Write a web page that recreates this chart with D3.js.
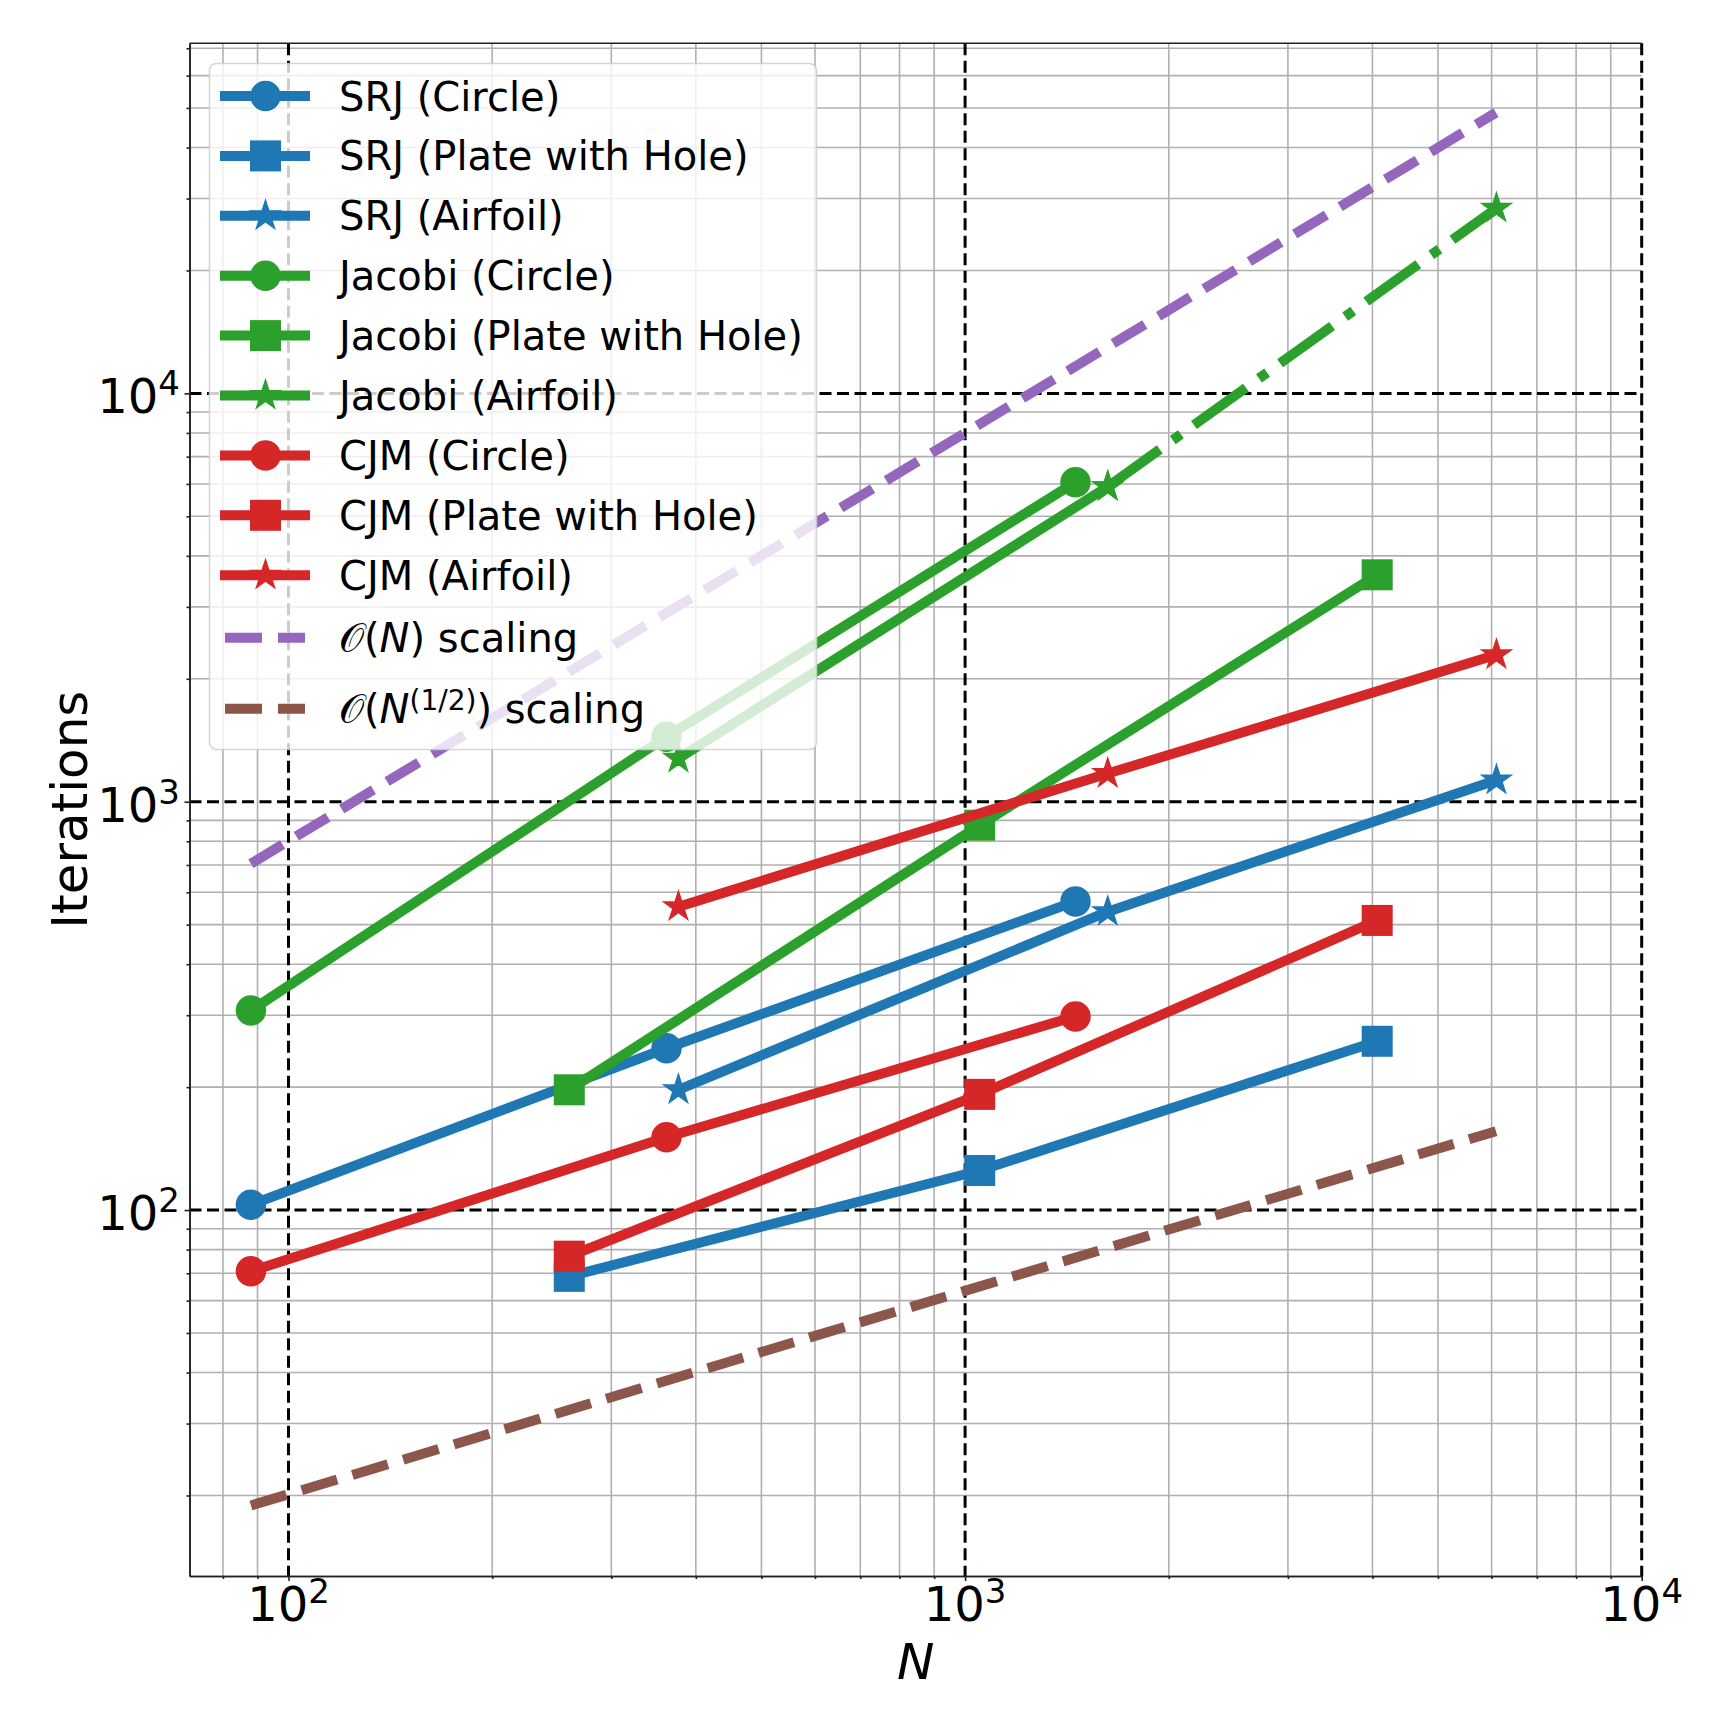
<!DOCTYPE html>
<html>
<head>
<meta charset="utf-8">
<script src="https://cdn.jsdelivr.net/npm/d3@7"></script>
<style>
  body { margin: 0; background: #fff; }
  svg text { font-family: "DejaVu Sans", sans-serif; fill: #000; }
</style>
</head>
<body>
<svg id="chart" width="1728" height="1728"></svg>
<script>

// Mesh sizes N for each geometry
var circleN = [88, 362, 1456];
var plateN = [260, 1051, 4065];
var airfoilN = [377, 1625, 6100];

// Iterations per solver and geometry
var srjCircle = [103, 249, 570];
var srjPlate = [68.8, 125, 259];
var srjAirfoil = [197, 538, 1130];
var jacobiCircle = [308, 1443, 6060];
var jacobiPlate = [197, 876, 3595];
var jacobiAirfoil = [1277, 5908];
var jacobiAirfoilExtra = [5908, 28400];
var cjmCircle = [70.8, 150.7, 298];
var cjmPlate = [77.1, 192, 512];
var cjmAirfoil = [553, 1172, 2290];

// Reference scaling lines (end points)
var scalingN = [88, 6090];
var linearScaling = [705, 48700];
var sqrtScaling = [18.9, 156];

// Axis decades for labels
var xTickExp = [2, 3, 4];
var yTickExp = [2, 3, 4];

var blue = "#1f77b4", green = "#2ca02c", red = "#d62728",
    purple = "#9467bd", brown = "#8c564b";

function pts(n, v) {
    return v.map(function(d, i) { return [n[i], d]; });
}

var series = [
    {label: "SRJ (Circle)", color: blue, marker: "o", data: pts(circleN, srjCircle)},
    {label: "SRJ (Plate with Hole)", color: blue, marker: "s", data: pts(plateN, srjPlate)},
    {label: "SRJ (Airfoil)", color: blue, marker: "*", data: pts(airfoilN, srjAirfoil)},
    {label: "Jacobi (Circle)", color: green, marker: "o", data: pts(circleN, jacobiCircle)},
    {label: "Jacobi (Plate with Hole)", color: green, marker: "s", data: pts(plateN, jacobiPlate)},
    {label: "Jacobi (Airfoil)", color: green, marker: "*", data: pts(airfoilN, jacobiAirfoil)},
    {label: null, color: green, marker: "*", dash: "64,16,10,16", data: pts(airfoilN.slice(1), jacobiAirfoilExtra)},
    {label: "CJM (Circle)", color: red, marker: "o", data: pts(circleN, cjmCircle)},
    {label: "CJM (Plate with Hole)", color: red, marker: "s", data: pts(plateN, cjmPlate)},
    {label: "CJM (Airfoil)", color: red, marker: "*", data: pts(airfoilN, cjmAirfoil)},
    {label: "O(N)", color: purple, marker: null, dash: "37,16", data: pts(scalingN, linearScaling)},
    {label: "O(N^1/2)", color: brown, marker: null, dash: "37,16", data: pts(scalingN, sqrtScaling)}
];

// Plot area
var plotLeft = 189.5, plotRight = 1641.7, plotTop = 43.3, plotBottom = 1576;
var lw = 10;

var x = d3.scaleLog().domain([71.4, 10000]).range([plotLeft, plotRight]);
var y = d3.scaleLog().domain([12.7, 72000]).range([plotBottom, plotTop]);

var svg = d3.select("#chart");

var isMajor = function(v) { return Math.abs(Math.log10(v) - Math.round(Math.log10(v))) < 1e-9; };
var xMinor = x.ticks().filter(function(v) { return !isMajor(v); });
var yMinor = y.ticks().filter(function(v) { return !isMajor(v); });
var xMajor = xTickExp.map(function(e) { return Math.pow(10, e); });
var yMajor = yTickExp.map(function(e) { return Math.pow(10, e); });

// Minor grid
var grid = svg.append("g");
grid.selectAll(".xminor").data(xMinor).enter().append("line")
    .attr("x1", function(d) { return x(d); }).attr("x2", function(d) { return x(d); })
    .attr("y1", plotTop).attr("y2", plotBottom)
    .style("stroke", "#b0b0b0").style("stroke-width", 1.6);
grid.selectAll(".yminor").data(yMinor).enter().append("line")
    .attr("y1", function(d) { return y(d); }).attr("y2", function(d) { return y(d); })
    .attr("x1", plotLeft).attr("x2", plotRight)
    .style("stroke", "#b0b0b0").style("stroke-width", 1.6);

// Major grid, black dashed
grid.selectAll(".xmajor").data(xMajor).enter().append("line")
    .attr("x1", function(d) { return x(d); }).attr("x2", function(d) { return x(d); })
    .attr("y1", plotTop).attr("y2", plotBottom)
    .style("stroke", "#000").style("stroke-width", 3).style("stroke-dasharray", "12,5.5");
grid.selectAll(".ymajor").data(yMajor).enter().append("line")
    .attr("y1", function(d) { return y(d); }).attr("y2", function(d) { return y(d); })
    .attr("x1", plotLeft).attr("x2", plotRight)
    .style("stroke", "#000").style("stroke-width", 3).style("stroke-dasharray", "12,5.5");

// Marker drawing
function drawMarker(g, type, color, cx, cy) {
    if (type === "o") {
        g.append("circle").attr("cx", cx).attr("cy", cy).attr("r", 14.5)
            .style("fill", color).style("stroke", color).style("stroke-width", 1.5);
    } else if (type === "s") {
        g.append("rect").attr("x", cx - 14.5).attr("y", cy - 14.5)
            .attr("width", 29).attr("height", 29)
            .style("fill", color).style("stroke", color).style("stroke-width", 2);
    } else if (type === "*") {
        var r = 14.5;
        g.append("path")
            .attr("d", d3.symbol().type(d3.symbolStar).size(r * r / 0.8908130915292852)())
            .attr("transform", "translate(" + cx + "," + cy + ")")
            .style("fill", color).style("stroke", color).style("stroke-width", 2)
            .style("stroke-linejoin", "miter");
    }
}

var line = d3.line()
    .x(function(d) { return x(d[0]); })
    .y(function(d) { return y(d[1]); });

var plot = svg.append("g");
series.forEach(function(s) {
    var g = plot.append("g");
    g.append("path")
        .datum(s.data)
        .attr("d", line)
        .style("fill", "none")
        .style("stroke", s.color)
        .style("stroke-width", lw)
        .style("stroke-linejoin", "round")
        .style("stroke-linecap", s.dash ? "butt" : "square")
        .style("stroke-dasharray", s.dash || null);
    if (s.marker) {
        s.data.forEach(function(d) { drawMarker(g, s.marker, s.color, x(d[0]), y(d[1])); });
    }
});

// Axes: ticks and spines
var xAxisMinor = d3.axisBottom(x).tickValues(xMinor).tickSize(3).tickSizeOuter(0).tickFormat("");
var xAxisMajor = d3.axisBottom(x).tickValues(xMajor).tickSize(5).tickSizeOuter(0).tickFormat("");
var yAxisMinor = d3.axisLeft(y).tickValues(yMinor).tickSize(3).tickSizeOuter(0).tickFormat("");
var yAxisMajor = d3.axisLeft(y).tickValues(yMajor).tickSize(5).tickSizeOuter(0).tickFormat("");

[[xAxisMinor, "b"], [xAxisMajor, "b"], [yAxisMinor, "l"], [yAxisMajor, "l"]].forEach(function(a) {
    var g = svg.append("g")
        .attr("transform", a[1] === "b" ? "translate(0," + plotBottom + ")" : "translate(" + plotLeft + ",0)")
        .call(a[0]);
    g.selectAll("path,line").style("stroke", "#222").style("stroke-width", 1.6);
});

// top spine
svg.append("line").attr("x1", plotLeft).attr("x2", plotRight).attr("y1", plotTop).attr("y2", plotTop)
    .style("stroke", "#222").style("stroke-width", 1.6);

// Tick labels 10^k
xTickExp.forEach(function(e) {
    var t = svg.append("text")
        .attr("x", x(Math.pow(10, e)))
        .attr("y", 1620.7)
        .attr("text-anchor", "middle")
        .style("font-size", "48px");
    t.append("tspan").text("10");
    t.append("tspan").attr("dy", -17.5).style("font-size", "34px").text(e);
});
yTickExp.forEach(function(e) {
    var t = svg.append("text")
        .attr("x", 180)
        .attr("y", y(Math.pow(10, e)) + 20)
        .attr("text-anchor", "end")
        .style("font-size", "48px");
    t.append("tspan").text("10");
    t.append("tspan").attr("dy", -18).style("font-size", "34px").text(e);
});

// Axis labels
svg.append("text")
    .attr("x", (plotLeft + plotRight) / 2)
    .attr("y", 1679)
    .attr("text-anchor", "middle")
    .style("font-size", "50px")
    .style("font-style", "italic")
    .text("N");

svg.append("text")
    .attr("transform", "translate(87," + (plotTop + plotBottom) / 2 + ") rotate(-90)")
    .attr("text-anchor", "middle")
    .style("font-size", "50px")
    .text("Iterations");

// Legend
var legend = svg.append("g");
legend.append("rect")
    .attr("x", 209.5).attr("y", 63.5)
    .attr("width", 607).attr("height", 686)
    .attr("rx", 7).attr("ry", 7)
    .style("fill", "#fff").style("fill-opacity", 0.8)
    .style("stroke", "#ccc").style("stroke-opacity", 0.8).style("stroke-width", 1.6);

var entries = series.filter(function(s) { return s.label; });
var rowY = [];
entries.forEach(function(s, i) {
    var yy = 96 + i * 59.9;
    if (i === 9) yy = 637.7;
    if (i === 10) yy = 708.7;
    rowY.push(yy);
});

entries.forEach(function(s, i) {
    var g = legend.append("g");
    var yy = rowY[i];
    g.append("line")
        .attr("x1", 225).attr("x2", 305).attr("y1", yy).attr("y2", yy)
        .style("stroke", s.color).style("stroke-width", lw)
        .style("stroke-linecap", s.dash ? "butt" : "square")
        .style("stroke-dasharray", s.dash || null);
    if (s.marker) drawMarker(g, s.marker, s.color, 265.5, yy);

    var t = g.append("text")
        .attr("x", 339).attr("y", yy + 14.5)
        .style("font-size", "40px");
    if (s.label === "O(N)") {
        t.append("tspan").text("\u{1D4AA}(");
        t.append("tspan").style("font-style", "italic").text("N");
        t.append("tspan").text(") scaling");
    } else if (s.label === "O(N^1/2)") {
        t.append("tspan").text("\u{1D4AA}(");
        t.append("tspan").style("font-style", "italic").text("N");
        t.append("tspan").attr("dy", -13).style("font-size", "28px").text("(1/2)");
        t.append("tspan").attr("dy", 13).text(") scaling");
    } else {
        t.text(s.label);
    }
});

</script>
</body>
</html>
